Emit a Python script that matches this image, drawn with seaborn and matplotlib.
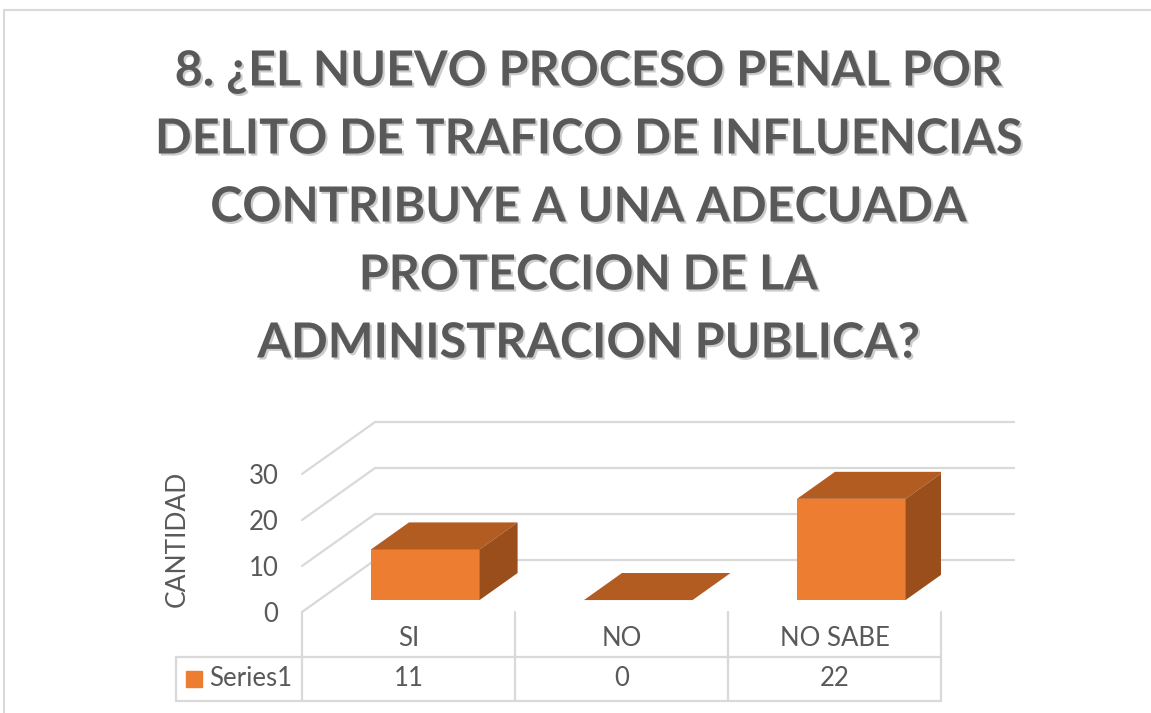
import matplotlib
matplotlib.use("Agg")
import matplotlib.pyplot as plt
import matplotlib.patheffects as pe
from matplotlib.patches import Polygon
from matplotlib.lines import Line2D
import seaborn as sns

# data
categories = ["SI", "NO", "NO SABE"]
counts = [11, 0, 22]
series_name = "Series1"
y_ticks = [0, 10, 20, 30]
y_label = "CANTIDAD"
title_lines = [
    "8. ¿EL NUEVO PROCESO PENAL POR",
    "DELITO DE TRAFICO DE INFLUENCIAS",
    "CONTRIBUYE A UNA ADECUADA",
    "PROTECCION DE LA",
    "ADMINISTRACION PUBLICA?",
]

FRONT, TOP, SIDE = "#ED7D31", "#B35C21", "#994E1B"
GRID, TEXT = "#D9D9D9", "#595959"
SMALL = 18.5

sns.set_style("white")
plt.rcParams["font.family"] = ["Lato", "DejaVu Sans"]

W, H = 1151, 713
fig = plt.figure(figsize=(W / 100, H / 100), dpi=100)

# Excel-style oblique 3d: depth vector in (category, value) units
DX, DY = 0.343, 11.3
T0, T1 = 0.23, 0.75          # bar front / back as fraction of the floor depth
BAR_W = 0.51
YMAX = 42
ROW_H = 9.7                  # data-table row height in value units
LEGEND_W = 0.59              # legend cell width in category units
n = len(categories)

ax = fig.add_axes([302 / W, 101 / H, 639 / W, 193.2 / H])

# gridlines on side + back wall
for v in y_ticks:
    ax.plot([-0.5, -0.5 + DX, n - 0.5 + DX], [v, v + DY, v + DY],
            color=GRID, lw=1.6, zorder=1, clip_on=False)

sns.barplot(x=categories, y=counts, width=BAR_W, color=FRONT, saturation=1,
            ax=ax, zorder=3, linewidth=0)

# push front faces back into the floor and add top / side faces
ddx, ddy = (T1 - T0) * DX, (T1 - T0) * DY
for bar in list(ax.patches):
    bar.set_x(bar.get_x() + T0 * DX)
    bar.set_y(bar.get_y() + T0 * DY)
    x0, y0 = bar.get_x(), bar.get_y()
    x1, y1 = x0 + bar.get_width(), y0 + bar.get_height()
    ax.add_patch(Polygon([(x0, y1), (x1, y1), (x1 + ddx, y1 + ddy), (x0 + ddx, y1 + ddy)],
                         facecolor=TOP, lw=0, zorder=3))
    ax.add_patch(Polygon([(x1, y0), (x1 + ddx, y0 + ddy), (x1 + ddx, y1 + ddy), (x1, y1)],
                         facecolor=SIDE, lw=0, zorder=3))

ax.set_xlim(-0.5, n - 0.5)
ax.set_ylim(0, YMAX)
ax.set_yticks(y_ticks)
for s in ax.spines.values():
    s.set_visible(False)
ax.tick_params(axis="y", length=0, pad=17, labelsize=SMALL, labelcolor=TEXT)
ax.tick_params(axis="x", length=0, pad=10, labelsize=SMALL, labelcolor=TEXT)
ax.set_xlabel("")
ax.set_ylabel(y_label, fontsize=19, color=TEXT)
ax.yaxis.set_label_coords(-0.175, 0.378)

# data table under the plot
tbl = dict(color=GRID, lw=1.6, clip_on=False, zorder=1)
for i in range(n + 1):
    ax.plot([i - 0.5, i - 0.5], [0, -2 * ROW_H], **tbl)
left = -0.5 - LEGEND_W
ax.plot([left, n - 0.5], [-ROW_H, -ROW_H], **tbl)
ax.plot([left, n - 0.5], [-2 * ROW_H, -2 * ROW_H], **tbl)
ax.plot([left, left], [-ROW_H, -2 * ROW_H], **tbl)
for i, c in enumerate(counts):
    ax.text(i, -1.5 * ROW_H, str(c), ha="center", va="center", fontsize=SMALL, color=TEXT)
ax.plot(left + 0.085, -1.5 * ROW_H, marker="s", ms=11, color=FRONT, clip_on=False)
ax.text(left + 0.155, -1.5 * ROW_H, series_name, ha="left", va="center",
        fontsize=SMALL, color=TEXT)

# chart area border
fig.add_artist(Line2D([4 / W, 4 / W], [0, 1 - 10 / H], color=GRID, lw=1.5))
fig.add_artist(Line2D([4 / W, 1], [1 - 10 / H, 1 - 10 / H], color=GRID, lw=1.5))

# title, sized so the widest line matches
probe = fig.text(0, 0, title_lines[1], fontsize=30, fontweight="bold")
w = probe.get_window_extent(renderer=fig.canvas.get_renderer()).width
probe.remove()
fs = 30 * 868 / w
shadow = [pe.withSimplePatchShadow(offset=(1.5, -1.5), shadow_rgbFace="black", alpha=0.2)]
for k, line in enumerate(title_lines):
    fig.text(588 / W, 1 - (85.5 + 68 * k) / H, line, ha="center", va="baseline",
             fontsize=fs, fontweight="bold", color=TEXT, path_effects=shadow)

fig.savefig("out.png", dpi=100)
